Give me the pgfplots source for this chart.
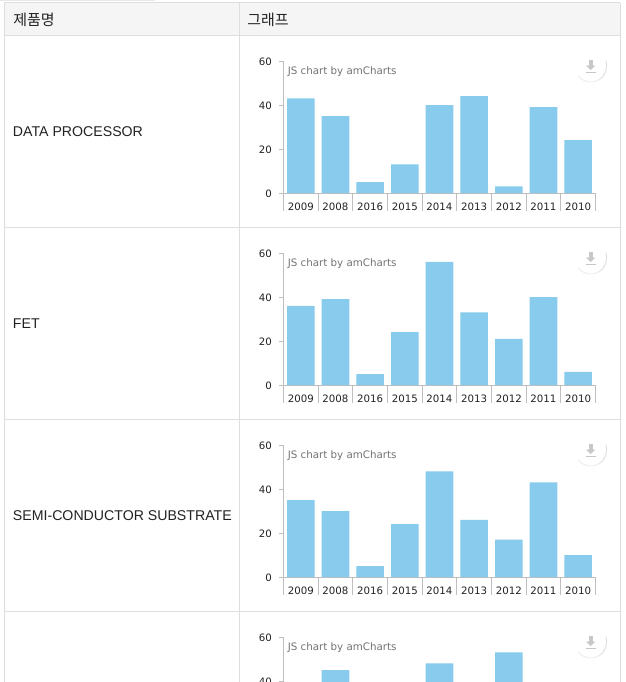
\documentclass[border=0pt]{standalone}
\usepackage{pgfplots}
\usepackage{pgfplotstable}
\usepackage{fontspec}
\setmainfont{Liberation Sans}
\newfontfamily\krfont{Noto Sans CJK KR}
\newfontfamily\tickfont{DejaVu Sans}
\pgfplotsset{compat=1.18}
\definecolor{barblue}{HTML}{88CBEC}
\definecolor{rule}{HTML}{DEDEDE}
\definecolor{head}{HTML}{F5F5F5}
\definecolor{ax}{HTML}{BEBEBE}
\definecolor{txt}{HTML}{222222}
\pgfplotstableread{
x v
0 43
1 35
2 5
3 13
4 40
5 44
6 3
7 39
8 24
}\chartA
\pgfplotstableread{
x v
0 36
1 39
2 5
3 24
4 56
5 33
6 21
7 40
8 6
}\chartB
\pgfplotstableread{
x v
0 35
1 30
2 5
3 24
4 48
5 26
6 17
7 43
8 10
}\chartC
\pgfplotstableread{
x v
1 45
4 48
6 53
}\chartD
\newcommand{\pxfont}[1]{\fontsize{\dimexpr#1pt*3/4\relax}{\dimexpr#1pt*9/10\relax}\selectfont}
\newcommand{\chart}[3][]{%
  \begin{axis}[
    at={(212.6pt,\dimexpr-#2pt*3/4\relax)}, anchor=south west,
    scale only axis, width=234pt, height=99pt,
    xmin=-0.5, xmax=8.5, ymin=0, ymax=60,
    axis x line=bottom, axis y line=left,
    axis line style={-, draw=ax, line width=0.6pt},
    xtick={0,...,8},
    xticklabels={2009,2008,2016,2015,2014,2013,2012,2011,2010},
    minor xtick={-0.5,0.5,...,8.5},
    major x tick style={draw=none},
    minor x tick style={draw=ax, line width=0.5pt},
    minor tick length=13.5pt,
    xtick align=outside, ytick align=outside,
    ytick={0,20,40,60},
    ytick style={draw=ax, line width=0.5pt},
    major tick length=3.6pt,
    ymajorgrids, grid style={draw=white, opacity=0.25, line width=0.4pt},
    every tick label/.append style={font=\tickfont\pxfont{10.2}, text=txt},
    /pgf/number format/assume math mode=true,
    xticklabel style={yshift=0pt},
    yticklabel style={xshift=-1.5pt, yshift=-0.4pt},
    ybar, bar width=20.7pt, bar shift=0pt,
    clip=true,
    #1
  ]
    \addplot[fill=barblue, draw=none] table[x=x,y=v] {#3};
  \end{axis}
  \node[anchor=west, inner sep=0pt, font=\tickfont\pxfont{10.3}, text=black!55] at (287.5,#2-121.7) {JS chart by amCharts};
  \begin{scope}
    \draw[black!12, line width=0.7pt] (590.7,#2-127) ++(-20:16) arc (-20:60:16);
    \draw[black!7, line width=0.7pt] (590.7,#2-127) ++(60:16) arc (60:140:16);
  \end{scope}
  \fill[black!22] (588.5,#2-133) rectangle (592.9,#2-127.5);
  \fill[black!22] (585.9,#2-127.5) -- (595.5,#2-127.5) -- (590.7,#2-123) -- cycle;
  \fill[black!22] (585.7,#2-121.3) rectangle (595.7,#2-120.3);
}
\begin{document}
\begin{tikzpicture}[x=0.75pt,y=-0.75pt]
  \path[use as bounding box] (0,0) rectangle (625,682);
  \begin{scope}
    \clip (0,0) rectangle (625,682);
    \fill[white] (0,0) rectangle (625,682);
    \draw[rule!70, line width=0.6pt] (0,0.5) -- (155,0.5);
    \fill[head] (4,3) rectangle (620,35);
    \foreach \yy in {2.5,35.5,227.5,419.5,611.5} \draw[rule, line width=0.75pt] (4,\yy) -- (620,\yy);
    \draw[rule, line width=0.75pt] (4.5,2.5) -- (4.5,682);
    \draw[rule, line width=0.75pt] (239.5,2.5) -- (239.5,682);
    \draw[rule, line width=0.75pt] (620.5,2.5) -- (620.5,682);
    \node[anchor=west, inner sep=0pt, font=\krfont\pxfont{15}, text=txt] at (13,20) {제품명};
    \node[anchor=west, inner sep=0pt, font=\krfont\pxfont{15}, text=txt] at (247,20) {그래프};
    \node[anchor=west, inner sep=0pt, font=\pxfont{14.15}, text=txt] at (12.7,131.7) {DATA PROCESSOR};
    \node[anchor=west, inner sep=0pt, font=\pxfont{14.15}, text=txt] at (12.7,323.7) {FET};
    \node[anchor=west, inner sep=0pt, font=\pxfont{14.15}, text=txt] at (12.7,515.7) {SEMI-CONDUCTOR SUBSTRATE};
    \chart{193}{\chartA}
    \chart{385}{\chartB}
    \chart{577}{\chartC}
    \chart[xticklabels={},ytick={40,60}]{769}{\chartD}
  \end{scope}
\end{tikzpicture}
\end{document}
